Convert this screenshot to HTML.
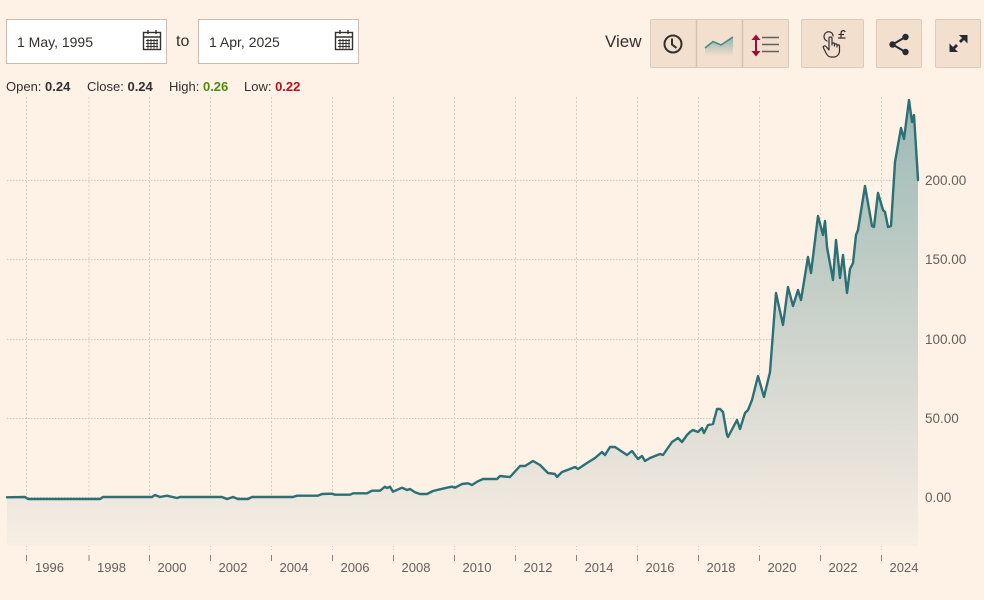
<!DOCTYPE html>
<html>
<head>
<meta charset="utf-8">
<style>
  html,body{margin:0;padding:0;}
  body{width:984px;height:600px;background:#fef1e6;position:relative;overflow:hidden;font-family:"Liberation Sans",Arial,sans-serif;color:#33302e;}
  .inp{position:absolute;top:19px;height:45px;width:161px;box-sizing:border-box;background:#fff;border:1px solid #c9bcb0;}
  .inp span{position:absolute;left:10px;top:14px;font-size:14px;color:#33302e;}
  .to{position:absolute;left:176px;top:33px;font-size:16px;color:#33302e;}
  .ohlc{position:absolute;top:79px;font-size:13px;color:#33302e;white-space:nowrap;}
  .ohlc b{font-weight:bold;}
  .view{position:absolute;left:605px;top:32px;font-size:17px;color:#33302e;}
  .btn{position:absolute;top:19px;height:49px;box-sizing:border-box;background:#f2dfcd;border:1px solid #dccbba;border-radius:2px;}
  svg{position:absolute;left:0;top:0;}
</style>
</head>
<body>
<div class="inp" style="left:6px;"><span>1 May, 1995</span></div>
<div class="to">to</div>
<div class="inp" style="left:198px;"><span>1 Apr, 2025</span></div>

<div class="ohlc" style="left:6px;">Open: <b>0.24</b></div>
<div class="ohlc" style="left:87px;">Close: <b>0.24</b></div>
<div class="ohlc" style="left:169px;">High: <b style="color:#4f8a10;">0.26</b></div>
<div class="ohlc" style="left:244px;">Low: <b style="color:#b8101f;">0.22</b></div>

<div class="view">View</div>
<div class="btn" style="left:650px;width:139px;"></div>
<div class="btn" style="left:801px;width:63px;"></div>
<div class="btn" style="left:876px;width:46px;"></div>
<div class="btn" style="left:935px;width:46px;"></div>

<svg width="984" height="600" viewBox="0 0 984 600" xmlns="http://www.w3.org/2000/svg">
  <defs>
    <linearGradient id="fg" x1="0" y1="97" x2="0" y2="548" gradientUnits="userSpaceOnUse">
      <stop offset="0" stop-color="#9bb9b5"/>
      <stop offset="0.45" stop-color="#c6d0c9"/>
      <stop offset="0.8" stop-color="#e6e2d9"/>
      <stop offset="1" stop-color="#f8eee4"/>
    </linearGradient>
    <linearGradient id="ig" x1="0" y1="37" x2="0" y2="56" gradientUnits="userSpaceOnUse">
      <stop offset="0" stop-color="#8fb3ad"/>
      <stop offset="1" stop-color="#f2dfcd"/>
    </linearGradient>
  </defs>

  <!-- button dividers -->
  <line x1="696.5" y1="20" x2="696.5" y2="67" stroke="#d4c2b1" stroke-width="1.5"/>
  <line x1="742.5" y1="20" x2="742.5" y2="67" stroke="#d4c2b1" stroke-width="1.5"/>

  <!-- calendar icons -->
  <g fill="none" stroke="#33302e" stroke-width="1.4">
    <rect x="143.5" y="32.5" width="17" height="17"/>
    <line x1="143.5" y1="37" x2="160.5" y2="37"/>
    <line x1="148" y1="30" x2="148" y2="34"/>
    <line x1="156" y1="30" x2="156" y2="34"/>
    <path d="M146 40.5H158M146 43.5H158M146 46.5H158M148 39V48.5M151 39V48.5M154 39V48.5M157 39V48.5" stroke-width="1"/>
    <rect x="335.5" y="32.5" width="17" height="17"/>
    <line x1="335.5" y1="37" x2="352.5" y2="37"/>
    <line x1="340" y1="30" x2="340" y2="34"/>
    <line x1="348" y1="30" x2="348" y2="34"/>
    <path d="M338 40.5H350M338 43.5H350M338 46.5H350M340 39V48.5M343 39V48.5M346 39V48.5M349 39V48.5" stroke-width="1"/>
  </g>

  <!-- clock -->
  <g fill="none" stroke="#33302e" stroke-width="2">
    <circle cx="673" cy="44" r="8.5"/>
    <path d="M672 38.5V44.5L676.5 48"/>
  </g>
  <!-- line icon -->
  <path d="M705 48 L713 41.5 L721 45 L733 37 L733 56 L705 56 Z" fill="url(#ig)"/>
  <polyline points="705,48 713,41.5 721,45 733,37" fill="none" stroke="#4a8a87" stroke-width="1.6"/>
  <!-- scale icon -->
  <g>
    <line x1="756" y1="38" x2="756" y2="53" stroke="#990f3d" stroke-width="2"/>
    <path d="M751.5 40 L756 34.5 L760.5 40 Z" fill="#990f3d"/>
    <path d="M751.5 51 L756 56.5 L760.5 51 Z" fill="#990f3d"/>
    <path d="M762 37.5H779M762 44.5H779M762 51.5H779" stroke="#66605c" stroke-width="1.4"/>
  </g>
  <!-- hand pound icon -->
  <g fill="none" stroke="#33302e" stroke-width="1.2" stroke-linecap="round" stroke-linejoin="round">
    <path d="M827 41 C823 39 823 34 827 32 C830 31 833 33 833 36"/>
    <path d="M829 50 V38.5 C829 36.5 832 36.5 832 38.5 V45 M832 44 C832 42.5 834.5 42.5 834.5 44 V46 M834.5 45 C834.5 43.5 837 43.5 837 45 V47 M837 46 C837 44.5 839.5 44.5 839.5 46 V51 C839.5 54 837 57 834 57 H831 C828.5 57 827 55 826 53 L823.5 48 C822.5 46.5 824.5 45 826 46.5 L829 50"/>
    <path d="M841 38 V33 C841 30.5 844 30 845 31.5 M839 34.5 H843.5 M838.5 38 H845"/>
  </g>
  <!-- share icon -->
  <g fill="#262a33">
    <circle cx="905.5" cy="37" r="3.2"/>
    <circle cx="892.5" cy="44.5" r="3.2"/>
    <circle cx="905.5" cy="52" r="3.2"/>
    <path d="M905.5 37 L892.5 44.5 L905.5 52" fill="none" stroke="#262a33" stroke-width="2"/>
  </g>
  <!-- expand icon -->
  <g fill="#262a33" stroke="#262a33">
    <line x1="960" y1="42" x2="965" y2="37" stroke-width="2.8"/>
    <line x1="952" y1="50" x2="957" y2="45" stroke-width="2.8"/>
    <path d="M959 35 L967.5 35 L967.5 43.5 Z" stroke="none"/>
    <path d="M949.5 43.5 L949.5 52 L958 52 Z" stroke="none"/>
  </g>

  <!-- horizontal gridlines -->
  <g stroke="#cfc5bb" stroke-width="1" stroke-dasharray="1.5,1.5">
    <line x1="7" y1="180.5" x2="918" y2="180.5"/>
    <line x1="7" y1="259.5" x2="918" y2="259.5"/>
    <line x1="7" y1="339.5" x2="918" y2="339.5"/>
    <line x1="7" y1="418.5" x2="918" y2="418.5"/>
    <line x1="7" y1="497.5" x2="918" y2="497.5"/>
  </g>
  <!-- vertical gridlines -->
  <g stroke="#d6ccc2" stroke-width="1" stroke-dasharray="2,2">
    <line x1="26.5" y1="97" x2="26.5" y2="550"/>
    <line x1="89" y1="97" x2="89" y2="550"/>
    <line x1="149.5" y1="97" x2="149.5" y2="550"/>
    <line x1="210.5" y1="97" x2="210.5" y2="550"/>
    <line x1="271.5" y1="97" x2="271.5" y2="550"/>
    <line x1="332.5" y1="97" x2="332.5" y2="550"/>
    <line x1="393.5" y1="97" x2="393.5" y2="550"/>
    <line x1="454.5" y1="97" x2="454.5" y2="550"/>
    <line x1="515.5" y1="97" x2="515.5" y2="550"/>
    <line x1="576.5" y1="97" x2="576.5" y2="550"/>
    <line x1="637.5" y1="97" x2="637.5" y2="550"/>
    <line x1="698.5" y1="97" x2="698.5" y2="550"/>
    <line x1="759.5" y1="97" x2="759.5" y2="550"/>
    <line x1="820.5" y1="97" x2="820.5" y2="550"/>
    <line x1="881.5" y1="97" x2="881.5" y2="550"/>
  </g>

  <!-- area fill -->
  <path fill="url(#fg)" d="M7,497.3 L25,497 L28,499 L100,499 L103,497 L152,497 L155,495 L160,497 L167,495.7 L177,498 L180,497 L222,497 L227,499 L233,497 L238,499 L248,499 L252,497 L293,497 L297,495.7 L318,495.7 L322,494 L332,493.7 L335,494.7 L350,494.7 L353,493.3 L367,493.3 L372,490.7 L380,490.7 L385,486.7 L387,488 L390,486.7 L393,491.7 L402,487.7 L407,490 L410,489 L415,492.3 L420,494 L427,494 L433,491 L440,489.3 L447,487.7 L452,486.7 L455,487.7 L462,484 L468,483.3 L472,485 L477,481.7 L483,479 L497,479 L500,476 L510,477 L520,466 L525,466 L533,461 L540,465 L548,473 L555,474 L557,477 L562,472 L570,469 L575,467 L578,469 L587,463 L595,458 L602,452 L605,455 L610,447 L615,447 L627,455 L632,451 L638,459 L642,456 L645,461 L650,458 L660,454 L663,455 L672,442 L678,438 L682,442 L687,435 L690,432 L693,430 L698,432 L702,428 L704,433 L708,425 L713,424 L717,409 L720,409 L723,412 L727,435 L728,437 L737,420 L740,429 L745,413 L748,410 L752,400 L758,376 L764,397 L770,372 L776,293 L783,325 L788,287 L793,306 L798,290 L801,300 L808,257 L811,273 L818,216 L823,235 L825,221 L827,247 L833,280 L836,240 L840,278 L843,255 L847,293 L850,269 L853,263 L856,235 L858,230 L865,186 L872,226 L874,227 L878,193 L883,210 L885,212 L888,227 L891,226 L895,162 L901,128 L904,139 L909,100 L912,122 L914,115 L918,180 L918,546 L7,546 Z"/>
  <!-- line -->
  <path fill="none" stroke="#2b7074" stroke-width="2.4" stroke-linejoin="round" stroke-linecap="round" d="M7,497.3 L25,497 L28,499 L100,499 L103,497 L152,497 L155,495 L160,497 L167,495.7 L177,498 L180,497 L222,497 L227,499 L233,497 L238,499 L248,499 L252,497 L293,497 L297,495.7 L318,495.7 L322,494 L332,493.7 L335,494.7 L350,494.7 L353,493.3 L367,493.3 L372,490.7 L380,490.7 L385,486.7 L387,488 L390,486.7 L393,491.7 L402,487.7 L407,490 L410,489 L415,492.3 L420,494 L427,494 L433,491 L440,489.3 L447,487.7 L452,486.7 L455,487.7 L462,484 L468,483.3 L472,485 L477,481.7 L483,479 L497,479 L500,476 L510,477 L520,466 L525,466 L533,461 L540,465 L548,473 L555,474 L557,477 L562,472 L570,469 L575,467 L578,469 L587,463 L595,458 L602,452 L605,455 L610,447 L615,447 L627,455 L632,451 L638,459 L642,456 L645,461 L650,458 L660,454 L663,455 L672,442 L678,438 L682,442 L687,435 L690,432 L693,430 L698,432 L702,428 L704,433 L708,425 L713,424 L717,409 L720,409 L723,412 L727,435 L728,437 L737,420 L740,429 L745,413 L748,410 L752,400 L758,376 L764,397 L770,372 L776,293 L783,325 L788,287 L793,306 L798,290 L801,300 L808,257 L811,273 L818,216 L823,235 L825,221 L827,247 L833,280 L836,240 L840,278 L843,255 L847,293 L850,269 L853,263 L856,235 L858,230 L865,186 L872,226 L874,227 L878,193 L883,210 L885,212 L888,227 L891,226 L895,162 L901,128 L904,139 L909,100 L912,122 L914,115 L918,180"/>

  <!-- y labels -->
  <g font-family="Liberation Sans, Arial, sans-serif" font-size="13.5" fill="#66605c">
    <text x="925" y="185">200.00</text>
    <text x="925" y="264">150.00</text>
    <text x="925" y="344">100.00</text>
    <text x="925" y="423">50.00</text>
    <text x="925" y="502">0.00</text>
  </g>

  <!-- x ticks -->
  <g stroke="#8a837d" stroke-width="1">
    <line x1="26.5" y1="555" x2="26.5" y2="561"/>
    <line x1="89" y1="555" x2="89" y2="561"/>
    <line x1="149.5" y1="555" x2="149.5" y2="561"/>
    <line x1="210.5" y1="555" x2="210.5" y2="561"/>
    <line x1="271.5" y1="555" x2="271.5" y2="561"/>
    <line x1="332.5" y1="555" x2="332.5" y2="561"/>
    <line x1="393.5" y1="555" x2="393.5" y2="561"/>
    <line x1="454.5" y1="555" x2="454.5" y2="561"/>
    <line x1="515.5" y1="555" x2="515.5" y2="561"/>
    <line x1="576.5" y1="555" x2="576.5" y2="561"/>
    <line x1="637.5" y1="555" x2="637.5" y2="561"/>
    <line x1="698.5" y1="555" x2="698.5" y2="561"/>
    <line x1="759.5" y1="555" x2="759.5" y2="561"/>
    <line x1="820.5" y1="555" x2="820.5" y2="561"/>
    <line x1="881.5" y1="555" x2="881.5" y2="561"/>
  </g>
  <g font-family="Liberation Sans, Arial, sans-serif" font-size="13" fill="#66605c">
    <text x="35" y="572">1996</text>
    <text x="97" y="572">1998</text>
    <text x="157.5" y="572">2000</text>
    <text x="218.5" y="572">2002</text>
    <text x="279.5" y="572">2004</text>
    <text x="340.5" y="572">2006</text>
    <text x="401.5" y="572">2008</text>
    <text x="462.5" y="572">2010</text>
    <text x="523.5" y="572">2012</text>
    <text x="584.5" y="572">2014</text>
    <text x="645.5" y="572">2016</text>
    <text x="706.5" y="572">2018</text>
    <text x="767.5" y="572">2020</text>
    <text x="828.5" y="572">2022</text>
    <text x="889.5" y="572">2024</text>
  </g>
</svg>
</body>
</html>
